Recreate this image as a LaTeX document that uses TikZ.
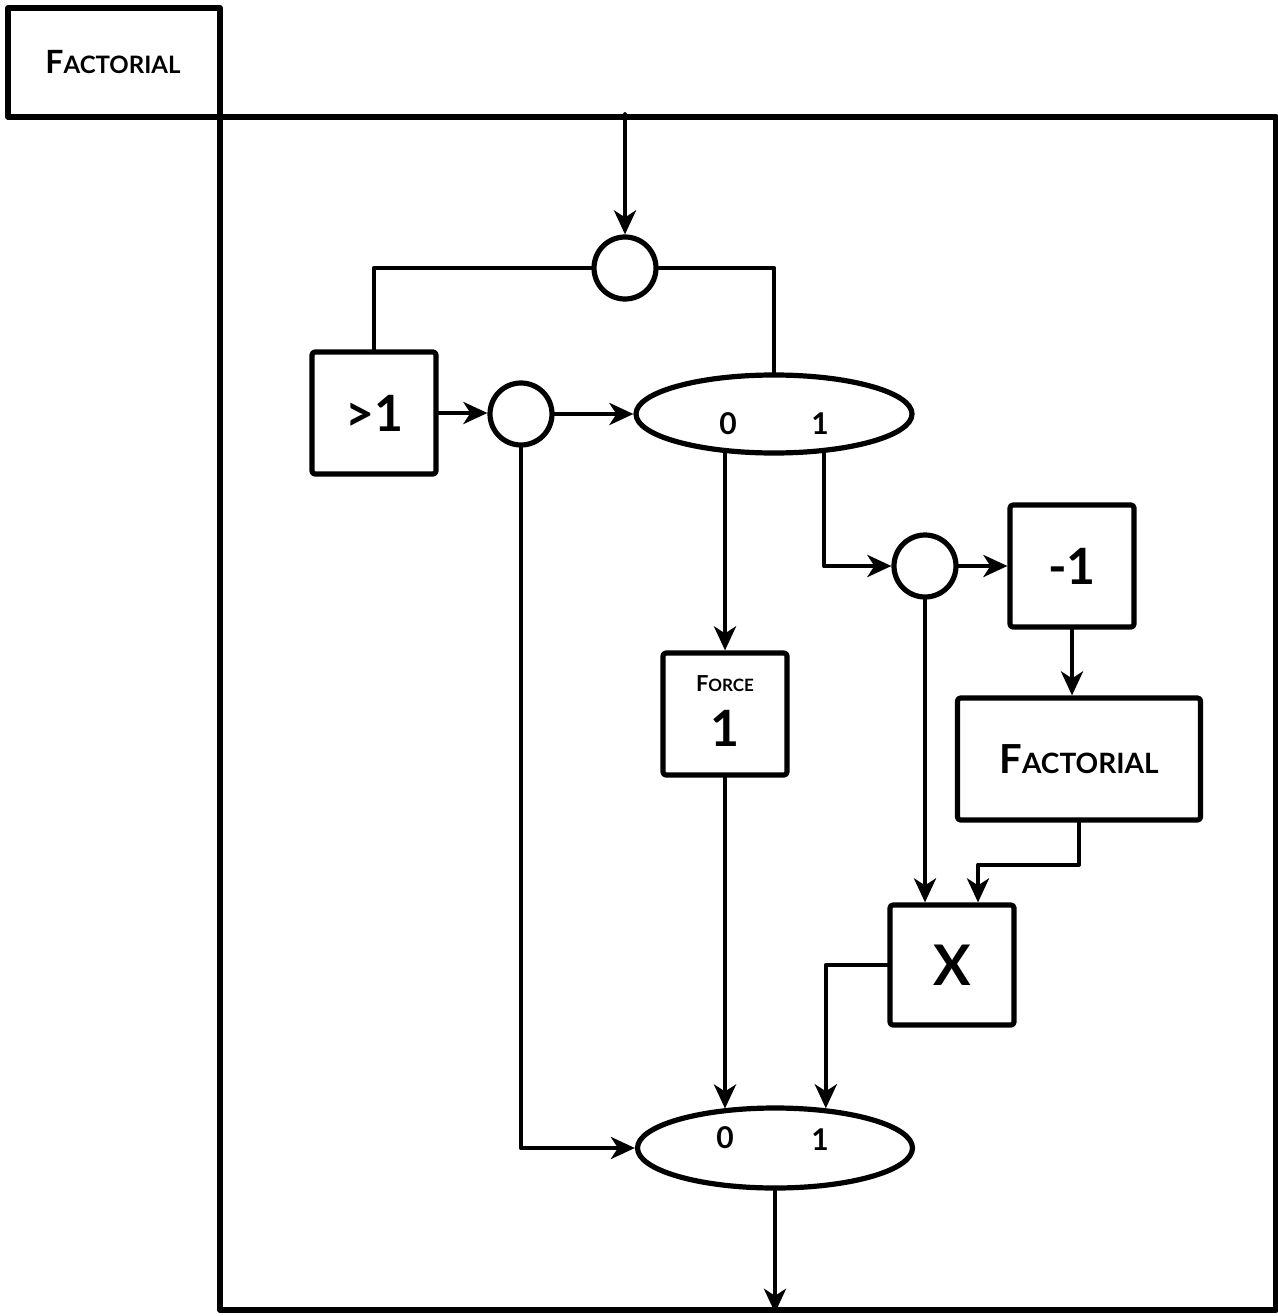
\documentclass[tikz,border=0pt]{standalone}
\usepackage{fontspec}
\setmainfont{Lato}
\usetikzlibrary{shapes.geometric,arrows.meta}
\newcommand\fz[2]{{\fontsize{#1}{#1}\selectfont #2}}
\begin{document}
\begin{tikzpicture}[x=0.5pt,y=-0.5pt,line join=round,line cap=round,
  every node/.append style={font=\bfseries},
  shp/.style={draw,line width=2.6pt,inner sep=0pt},
  box/.style={shp,rounded corners=1.5pt,minimum width=62pt,minimum height=61pt},
  circ/.style={shp,circle,minimum size=31pt},
  ell/.style={shp,ellipse,minimum width=138pt,minimum height=39pt},
  lab/.style={inner sep=0pt,font=\bfseries\fontsize{15}{15}\selectfont},
  con/.style={line width=2.1pt},
  arr/.style={con,-{Stealth[length=12pt,width=11pt,inset=3.5pt]}}]
\useasboundingbox (0,0) rectangle (1278,1316);
% frames
\node[box,rounded corners=0pt,line width=2.8pt,minimum width=528pt,minimum height=596.5pt] (frame) at (748,713.5) {};
\node[box,rounded corners=0pt,line width=2.8pt,minimum width=106pt,minimum height=54.5pt] (title) at (114,62.5) {};
\node[inner sep=0pt] (titletext) at (113,62) {\fz{16}{F}\fz{12}{ACTORIAL}};
% nodes
\node[circ] (c1) at (625,268) {};
\node[box] (gt) at (374,413) {\fz{25}{>1}};
\node[circ] (c2) at (521,414) {};
\node[ell] (e1) at (774,414) {};
\node[lab] (e1zero) at (728,424) {0};
\node[lab] (e1one) at (820,424) {1};
\node[circ] (c3) at (925,566) {};
\node[box] (minus) at (1072,566) {\fz{25}{-1}};
\node[box,minimum width=121.5pt] (fact) at (1079,759) {\fz{20}{F}\fz{14}{ACTORIAL}};
\node[box] (force) at (725,714) {\begin{tabular}{@{}c@{}}\fz{11}{F}\fz{8.5}{ORCE}\\[6pt]\fz{25}{1}\end{tabular}};
\node[box,minimum height=60pt] (times) at (952,965) {\fz{28}{X}};
\node[shp,ellipse,minimum width=137.5pt,minimum height=40pt] (e2) at (775,1148) {};
\node[lab] (e2zero) at (725,1138) {0};
\node[lab] (e2one) at (820,1140) {1};
% connectors
\draw[arr] (frame.north -| c1) -- (c1.north);
\draw[con] (c1.west) -| (gt.north);
\draw[con] (c1.east) -| (e1.north);
\draw[arr] (gt.east) -- (gt.east -| c2.west);
\draw[arr] (c2.east) -- (e1.west);
\draw[arr] (c2.south) |- (e2.west);
\draw[arr] (force.north |- e1.218) -- (force.north);
\draw[arr] (e1.322) |- (c3.west);
\draw[arr] (c3.east) -- (minus.west);
\draw[arr] (minus.south) -- (minus.south |- fact.north);
\draw[arr] (c3.south) -- (c3.south |- times.north);
\draw[arr] (fact.south) -- ++(0,42) -| ([xshift=13pt]times.north);
\draw[arr] (times.west) -| (e2.38);
\draw[arr] (force.south) -- (force.south |- e2.143);
\draw[arr] (e2.south) -- (frame.south -| e2.south);
\end{tikzpicture}
\end{document}
